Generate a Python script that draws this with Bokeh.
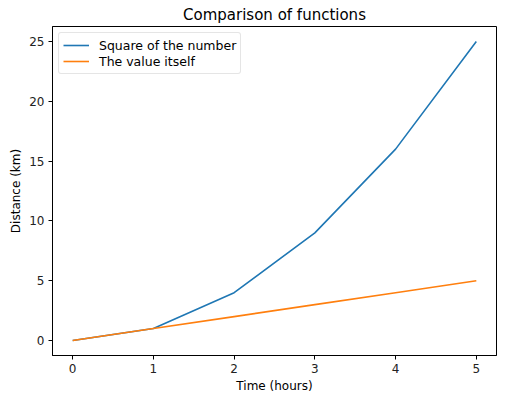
from bokeh.plotting import figure
from bokeh.embed import file_html
from bokeh.resources import INLINE
from bokeh.models import Range1d, FixedTicker

x = [0, 1, 2, 3, 4, 5]
squares = [0, 1, 4, 9, 16, 25]
values = [0, 1, 2, 3, 4, 5]
x_ticks = [0, 1, 2, 3, 4, 5]
y_ticks = [0, 5, 10, 15, 20, 25]

FONT = "DejaVu Sans"

p = figure(frame_width=444, frame_height=329, output_backend="svg", toolbar_location=None,
           x_range=Range1d(-0.25, 5.25), y_range=Range1d(-1.25, 26.25),
           min_border_left=52, min_border_right=6, min_border_top=22, min_border_bottom=36)
p.title.text = "Comparison of functions"
p.title.align = "center"
p.title.text_font = FONT
p.title.text_font_size = "15px"
p.title.text_font_style = "normal"
p.title.text_color = "black"
p.title.standoff = 6
p.title.offset = 0

p.line(x, squares, line_color="#1f77b4", line_width=1.6, legend_label="Square of the number")
p.line(x, values, line_color="#ff7f0e", line_width=1.6, legend_label="The value itself")

p.xgrid.visible = False
p.ygrid.visible = False
p.outline_line_color = "black"
p.outline_line_width = 1
p.outline_line_alpha = 1

for ax, ticks in ((p.xaxis[0], x_ticks), (p.yaxis[0], y_ticks)):
    ax.ticker = FixedTicker(ticks=ticks)
    ax.minor_tick_line_color = None
    ax.major_tick_in = 0
    ax.major_tick_out = 4
    ax.major_tick_line_color = "black"
    ax.axis_line_color = "black"
    ax.major_label_text_font = FONT
    ax.major_label_text_font_size = "12px"
    ax.major_label_text_color = "#222222"
    ax.axis_label_text_font = FONT
    ax.axis_label_text_font_size = "12px"
    ax.axis_label_text_font_style = "normal"
    ax.axis_label_text_color = "black"
    ax.major_label_standoff = 4
    ax.axis_label_standoff = 3

p.xaxis.axis_label = "Time (hours)"
p.yaxis.axis_label = "Distance (km)"

p.legend.location = "top_left"
p.legend.margin = 6
p.legend.padding = 4
p.legend.spacing = 0
p.legend.label_text_font = FONT
p.legend.label_text_font_size = "12.5px"
p.legend.label_text_color = "black"
p.legend.label_height = 16
p.legend.glyph_height = 16
p.legend.glyph_width = 26
p.legend.label_standoff = 10
p.legend.border_line_color = "#cccccc"
p.legend.border_line_width = 1
p.legend.border_radius = 3
p.legend.background_fill_alpha = 0.8

open("out.html", "w").write(file_html(p, INLINE))
